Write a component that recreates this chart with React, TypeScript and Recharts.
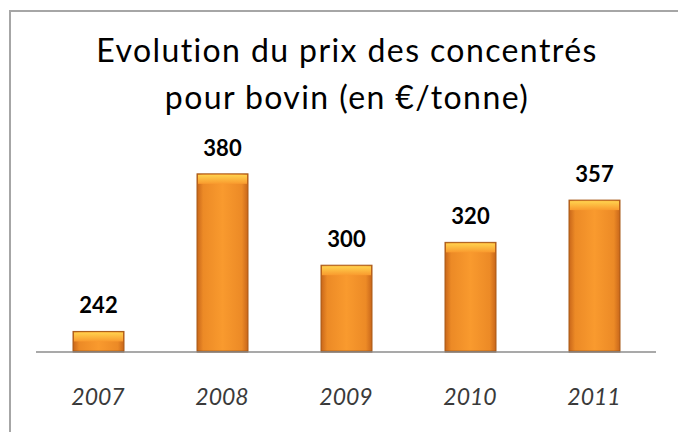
import React from 'react';
import { BarChart, Bar, XAxis, YAxis, LabelList } from 'recharts';

const years = ['2007', '2008', '2009', '2010', '2011'];
const prices = [242, 380, 300, 320, 357];

const data = years.map((year, i) => ({ year, price: prices[i] }));

const font = 'Lato, "Open Sans", sans-serif';

function BevelBar(props: any) {
  const { x, y, width, height } = props;
  if (!height || height <= 0) return null;
  const bevel = Math.min(9, height / 2);
  return (
    <g>
      <rect x={x} y={y} width={width} height={height} fill="url(#barSide)" stroke="#a85a18" strokeWidth={1} />
      <rect x={x + 1} y={y + 1} width={width - 2} height={bevel} fill="url(#barTop)" />
      <line x1={x} x2={x + width} y1={y + height - 0.5} y2={y + height - 0.5} stroke="#8a4a14" strokeWidth={1.5} />
    </g>
  );
}

export default function App() {
  return (
    <div style={{ position: 'absolute', left: 0, top: 0, width: 678, height: 432, background: '#fff', overflow: 'hidden' }}>
      <div style={{ position: 'absolute', left: 9, top: 10, width: 680, height: 440, border: '2px solid #a6a6a6', boxSizing: 'border-box' }} />
      <div style={{ position: 'absolute', left: 8, top: 26, width: 678, textAlign: 'center', fontFamily: font, fontSize: 32, letterSpacing: 1.4, lineHeight: '47px', color: '#000' }}>
        Evolution du prix des concentrés
        <br />
        pour bovin (en €/tonne)
      </div>
      <BarChart width={678} height={432} data={data} margin={{ top: 151, right: 22, bottom: 20, left: 36 }} style={{ position: 'absolute', left: 0, top: 0 }}>
        <defs>
          <linearGradient id="barSide" x1="0" y1="0" x2="1" y2="0">
            <stop offset="0%" stopColor="#c8661a" />
            <stop offset="12%" stopColor="#ec8a26" />
            <stop offset="50%" stopColor="#f99a2e" />
            <stop offset="88%" stopColor="#ec8a26" />
            <stop offset="100%" stopColor="#c8661a" />
          </linearGradient>
          <linearGradient id="barTop" x1="0" y1="0" x2="0" y2="1">
            <stop offset="0%" stopColor="#ffd24e" />
            <stop offset="100%" stopColor="#f99a2e" />
          </linearGradient>
        </defs>
        <XAxis
          dataKey="year"
          height={60}
          axisLine={{ stroke: '#8c8c8c', strokeWidth: 1.5 }}
          tickLine={false}
          tickSize={0}
          tickMargin={37}
          tick={{ fontFamily: font, fontSize: 23, fontStyle: 'italic', fill: '#3a3a3a' }}
        />
        <YAxis hide domain={[224, 400]} />
        <Bar dataKey="price" barSize={51} shape={BevelBar} isAnimationActive={false}>
          <LabelList dataKey="price" position="top" offset={18} style={{ fontFamily: font, fontSize: 22, fontWeight: 700, fill: '#000' }} />
        </Bar>
      </BarChart>
    </div>
  );
}
